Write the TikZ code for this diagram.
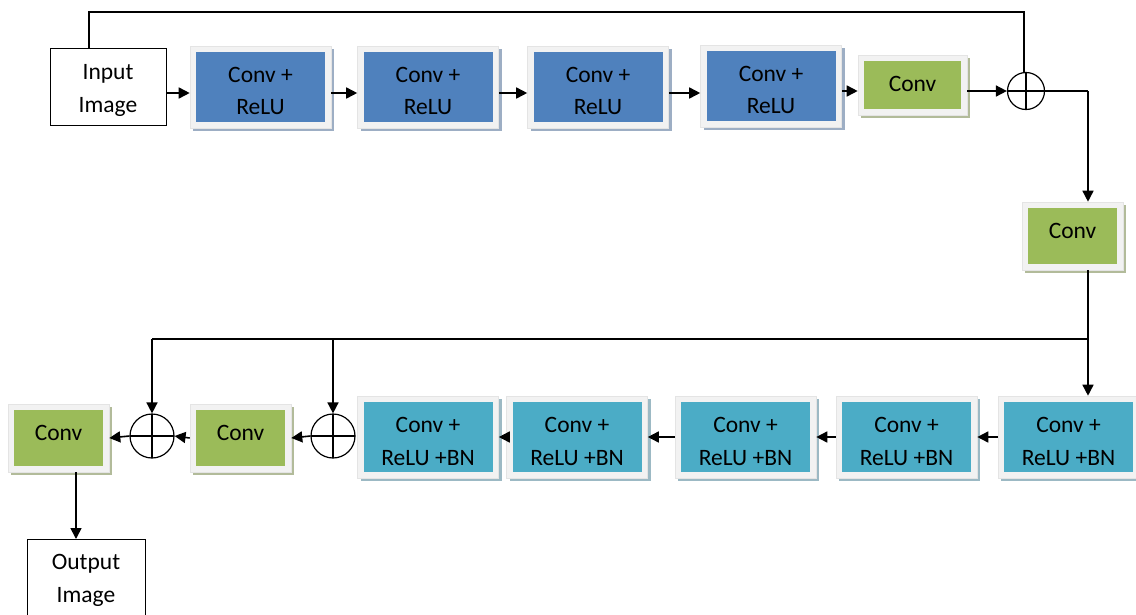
\documentclass[tikz,border=0pt]{standalone}
\usepackage{fontspec}
\setmainfont{Carlito}
\usetikzlibrary{arrows.meta,shadows}
\definecolor{cblue}{HTML}{4F81BD}
\definecolor{cteal}{HTML}{4BACC6}
\definecolor{cgreen}{HTML}{9BBB59}
\definecolor{rim}{HTML}{F2F2F2}
\definecolor{rimline}{HTML}{E4E4E4}
\definecolor{shblue}{HTML}{9DAEC4}
\definecolor{shteal}{HTML}{9CB9C4}
\definecolor{shgreen}{HTML}{B2BB9A}
\newcommand\lifttxt[1]{\rule{0pt}{#1}}
\newcommand\droptxt[1]{\rule[-#1]{0pt}{#1}}
\tikzset{
  fbox/.style n args={4}{draw=rimline, line width=0.6pt, fill=rim,
    minimum width=#1+12pt, minimum height=#2+12pt, inner sep=0pt,
    align=center, font=\fontsize{23.5}{32.5}\selectfont,
    drop shadow={shadow xshift=3pt, shadow yshift=-3pt, fill=#4, opacity=1},
    path picture={\fill[#3] ([shift={(6pt,6pt)}]path picture bounding box.south west) rectangle ([shift={(-6pt,-6pt)}]path picture bounding box.north east);}},
  bluebox/.style={fbox={129pt}{70pt}{cblue}{shblue}},
  tealbox/.style={fbox={129pt}{70pt}{cteal}{shteal}},
  greenbox/.style={fbox={89pt}{56pt}{cgreen}{shgreen}},
  iobox/.style={draw, line width=1pt, fill=white, minimum width=116pt, align=center,
    font=\fontsize{23.5}{33}\selectfont, inner sep=0pt},
  sumnode/.style={circle, draw, line width=1.2pt, minimum size=#1, inner sep=0pt,
    path picture={\draw[line width=1.2pt] (path picture bounding box.north) -- (path picture bounding box.south) (path picture bounding box.west) -- (path picture bounding box.east);}},
  arr/.style={line width=1.6pt, -{Triangle[length=11pt,width=11pt]}},
  wire/.style={line width=1.6pt},
}
\begin{document}
\begin{tikzpicture}[x=1pt,y=-1pt]
\useasboundingbox (0,0) rectangle (1136,614);
% top row
\node[iobox, minimum height=77pt] (in) at (108,86.5) {\lifttxt{23pt}Input\\Image};
\node[bluebox] (b1) at (260.5,87) {\lifttxt{23pt}Conv +\\ReLU};
\node[bluebox] (b2) at (428,87) {\lifttxt{23pt}Conv +\\ReLU};
\node[bluebox] (b3) at (598,87) {\lifttxt{23pt}Conv +\\ReLU};
\node[bluebox] (b4) at (771,86) {\lifttxt{23pt}Conv +\\ReLU};
\node[fbox={97pt}{48pt}{cgreen}{shgreen}] (c1) at (912.5,85) {Conv\droptxt{2pt}};
\node[sumnode=37pt] (s0) at (1026,91) {};
% right conv
\node[greenbox] (c2) at (1072.5,236) {Conv\droptxt{10pt}};
% bottom row
\node[tealbox] (ba) at (1068.5,437) {\lifttxt{24pt}Conv +\\ReLU +BN};
\node[tealbox] (bb) at (906.5,437) {\lifttxt{24pt}Conv +\\ReLU +BN};
\node[tealbox] (bc) at (745.5,437) {\lifttxt{24pt}Conv +\\ReLU +BN};
\node[tealbox] (bd) at (577,437) {\lifttxt{24pt}Conv +\\ReLU +BN};
\node[tealbox] (be) at (428,437) {\lifttxt{24pt}Conv +\\ReLU +BN};
\node[sumnode=44pt] (s2) at (333,436) {};
\node[greenbox] (cm) at (240.5,438) {Conv\droptxt{10pt}};
\node[sumnode=44pt] (s1) at (152,436) {};
\node[greenbox] (cl) at (58.5,438) {Conv\droptxt{10pt}};
\node[iobox, anchor=north, minimum width=118pt, minimum height=80pt] (out) at (86,539) {\lifttxt{17pt}Output\\Image};
% coordinates
\coordinate (t0) at (89,12);
\coordinate (t1) at (1024,12);
\coordinate (r0) at (1088,91);
\coordinate (br) at (1088,339);
\coordinate (bl) at (152,339);
\coordinate (bm) at (333,339);
% top arrows
\draw[arr] (in.east |- 0,93) -- (b1.west |- 0,93);
\draw[arr] (b1.east |- 0,93) -- (b2.west |- 0,93);
\draw[arr] (b2.east |- 0,93) -- (b3.west |- 0,93);
\draw[arr] (b3.east |- 0,93) -- (b4.west |- 0,93);
\draw[arr] (b4.east |- 0,91) -- (c1.west |- 0,91);
\draw[arr] (c1.east |- 0,91) -- (s0.west);
% skip top
\draw[wire] (in.north -| t0) -- (t0) -- (t1) -- (s0.north -| t1);
% down the right
\draw[wire] (s0.east) -- (r0);
\draw[arr] (r0) -- (c2.north -| r0);
\draw[arr] (c2.south -| r0) -- (ba.north -| r0);
% branch
\draw[wire] (br) -- (bl);
\draw[arr] (bl) -- (s1.north);
\draw[arr] (bm) -- (s2.north);
% bottom arrows
\draw[arr] (ba.west) -- (bb.east);
\draw[arr] (bb.west) -- (bc.east);
\draw[arr] (bc.west) -- (bd.east);
\draw[arr] (bd.west) -- (be.east);
\draw[arr] (s2.west) -- (cm.east);
\draw[arr] (cm.west) -- (s1.east);
\draw[arr] (s1.west) -- (cl.east);
\draw[arr] (cl.south -| 76,0) -- (out.north -| 76,0);
\end{tikzpicture}
\end{document}
